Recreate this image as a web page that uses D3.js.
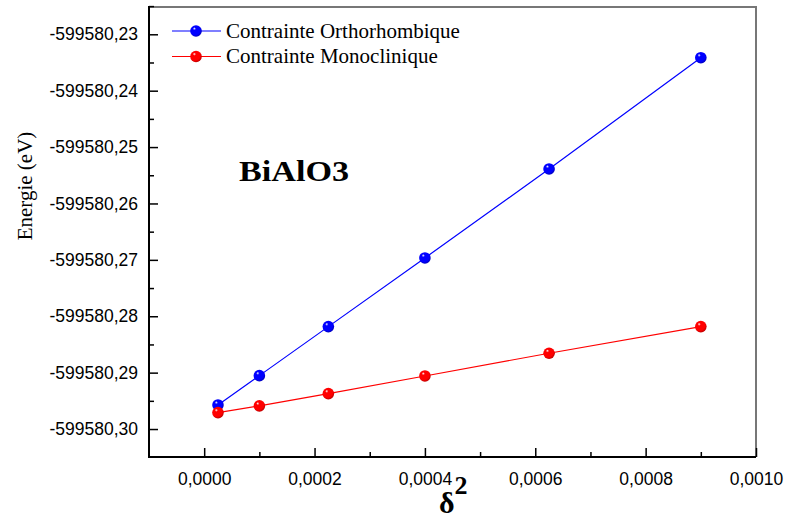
<!DOCTYPE html>
<html>
<head>
<meta charset="utf-8">
<script src="https://cdn.jsdelivr.net/npm/d3@7"></script>
<style>
  body { margin: 0; background: #fff; }
  svg { display: block; }
</style>
</head>
<body>
<div id="chart"></div>
<script>
// data
const delta2 = [0.000025, 0.0001, 0.000225, 0.0004, 0.000625, 0.0009]
const energyOrtho = [-599580.29573, -599580.29053, -599580.28184, -599580.26966, -599580.25388, -599580.23415]
const energyMono = [-599580.29709, -599580.29590, -599580.29372, -599580.29059, -599580.28656, -599580.28184]
const seriesNames = ['Contrainte Orthorhombique', 'Contrainte Monoclinique']
const seriesColors = ['#0000ff', '#ff0000']
const xTicks = [0, 0.0002, 0.0004, 0.0006, 0.0008, 0.0010]
const yTicks = [-599580.30, -599580.29, -599580.28, -599580.27, -599580.26, -599580.25, -599580.24, -599580.23]

const width = 786, height = 519
const margin = {left: 149, top: 7, right: 30, bottom: 62}

const svg = d3.select('#chart').append('svg')
  .attr('width', width)
  .attr('height', height)

const x = d3.scaleLinear()
  .domain([-0.0001, 0.001])
  .range([margin.left, width - margin.right])

const y = d3.scaleLinear()
  .domain([-599580.30496, -599580.22516])
  .range([height - margin.bottom, margin.top])

const commaFmt = (f) => (d) => d3.format(f)(d).replace('.', ',').replace('−', '-')

// sphere gradients
const defs = svg.append('defs')
seriesColors.forEach((c, i) => {
  const g = defs.append('radialGradient')
    .attr('id', 'ball' + i)
    .attr('cx', '0.42').attr('cy', '0.38').attr('r', '0.62')
    .attr('fx', '0.35').attr('fy', '0.28')
  g.append('stop').attr('offset', '0%').attr('stop-color', '#ffffff')
  g.append('stop').attr('offset', '22%').attr('stop-color', c)
  g.append('stop').attr('offset', '75%').attr('stop-color', c)
  g.append('stop').attr('offset', '100%').attr('stop-color', d3.color(c).darker(0.8))
})

// frame: top and right in grey
const x0 = x.range()[0], x1 = x.range()[1]
const y0 = y.range()[0], y1 = y.range()[1]
svg.append('path')
  .attr('d', `M${x0},${y1}H${x1}V${y0}`)
  .attr('fill', 'none')
  .attr('stroke', '#777')
  .attr('stroke-width', 2)

// x axis, ticks inward
const xMinor = d3.range(-0.0001, 0.00101, 0.0002).filter(d => d > -0.00005)
svg.append('g')
  .attr('transform', `translate(0,${y0})`)
  .call(d3.axisBottom(x).tickValues(xMinor).tickSize(-5).tickFormat(''))
  .call(g => g.select('.domain').remove())
  .call(g => g.selectAll('line').attr('stroke', '#000').attr('stroke-width', 1.5))

svg.append('g')
  .attr('transform', `translate(0,${y0})`)
  .call(d3.axisBottom(x).tickValues(xTicks).tickSize(-9).tickPadding(16).tickFormat(commaFmt('.4f')))
  .call(g => g.select('.domain').attr('stroke-width', 2).attr('d', `M${x0 - 1},0H${x1}`))
  .call(g => g.selectAll('line').attr('stroke-width', 1.5))
  .call(g => g.selectAll('text')
    .attr('font-family', 'Liberation Sans, Arial, sans-serif')
    .attr('font-size', 17.5)
    .attr('dy', '0.71em')
    .attr('fill', '#000'))

// y axis, ticks inward
const yMinor = yTicks.map(d => d + 0.005)
svg.append('g')
  .attr('transform', `translate(${x0},0)`)
  .call(d3.axisLeft(y).tickValues(yMinor).tickSize(-5).tickFormat(''))
  .call(g => g.select('.domain').remove())
  .call(g => g.selectAll('line').attr('stroke', '#000').attr('stroke-width', 1.5))

svg.append('g')
  .attr('transform', `translate(${x0},0)`)
  .call(d3.axisLeft(y).tickValues(yTicks).tickSize(-9).tickPadding(11).tickFormat(commaFmt('.2f')))
  .call(g => g.select('.domain').attr('stroke-width', 2).attr('d', `M0,${y0 + 1}V${y1 - 1}`))
  .call(g => g.selectAll('line').attr('stroke-width', 1.5))
  .call(g => g.selectAll('text')
    .attr('font-family', 'Liberation Sans, Arial, sans-serif')
    .attr('font-size', 17.5)
    .attr('fill', '#000'))

// series
const allSeries = [energyOrtho, energyMono]
const line = d3.line()
  .x((d, i) => x(delta2[i]))
  .y(d => y(d))

allSeries.forEach((vals, s) => {
  svg.append('path')
    .datum(vals)
    .attr('d', line)
    .attr('fill', 'none')
    .attr('stroke', seriesColors[s])
    .attr('stroke-width', 1.2)
  svg.append('g').selectAll('circle')
    .data(vals)
    .enter()
    .append('circle')
    .attr('cx', (d, i) => x(delta2[i]))
    .attr('cy', d => y(d))
    .attr('r', 5.8)
    .attr('fill', `url(#ball${s})`)
})

// legend
const legend = svg.append('g').attr('transform', 'translate(172,31)')
seriesNames.forEach((name, i) => {
  const row = legend.append('g').attr('transform', `translate(0,${i * 25.5})`)
  row.append('line')
    .attr('x1', 0).attr('x2', 49)
    .attr('stroke', seriesColors[i])
    .attr('stroke-width', 1.2)
  row.append('circle')
    .attr('cx', 24).attr('r', 5.8)
    .attr('fill', `url(#ball${i})`)
  row.append('text')
    .attr('x', 54)
    .attr('dy', '0.33em')
    .attr('font-family', 'Liberation Serif, Times New Roman, serif')
    .attr('font-size', 21)
    .text(name)
})

// compound label
svg.append('text')
  .attr('x', 239)
  .attr('y', 181)
  .attr('font-family', 'Liberation Serif, Times New Roman, serif')
  .attr('font-weight', 'bold')
  .attr('font-size', 30)
  .attr('textLength', 110)
  .attr('lengthAdjust', 'spacingAndGlyphs')
  .text('BiAlO3')

// axis titles
svg.append('text')
  .attr('transform', 'translate(32,186) rotate(-90)')
  .attr('text-anchor', 'middle')
  .attr('font-family', 'Liberation Serif, Times New Roman, serif')
  .attr('font-size', 21)
  .text('Energie (eV)')

const xt = svg.append('text')
  .attr('x', 439)
  .attr('y', 513)
  .attr('font-family', 'Liberation Serif, Times New Roman, serif')
  .attr('font-weight', 'bold')
xt.append('tspan').attr('font-size', 30).text('δ')
xt.append('tspan').attr('font-size', 26).attr('dy', -19).text('2')
</script>
</body>
</html>
